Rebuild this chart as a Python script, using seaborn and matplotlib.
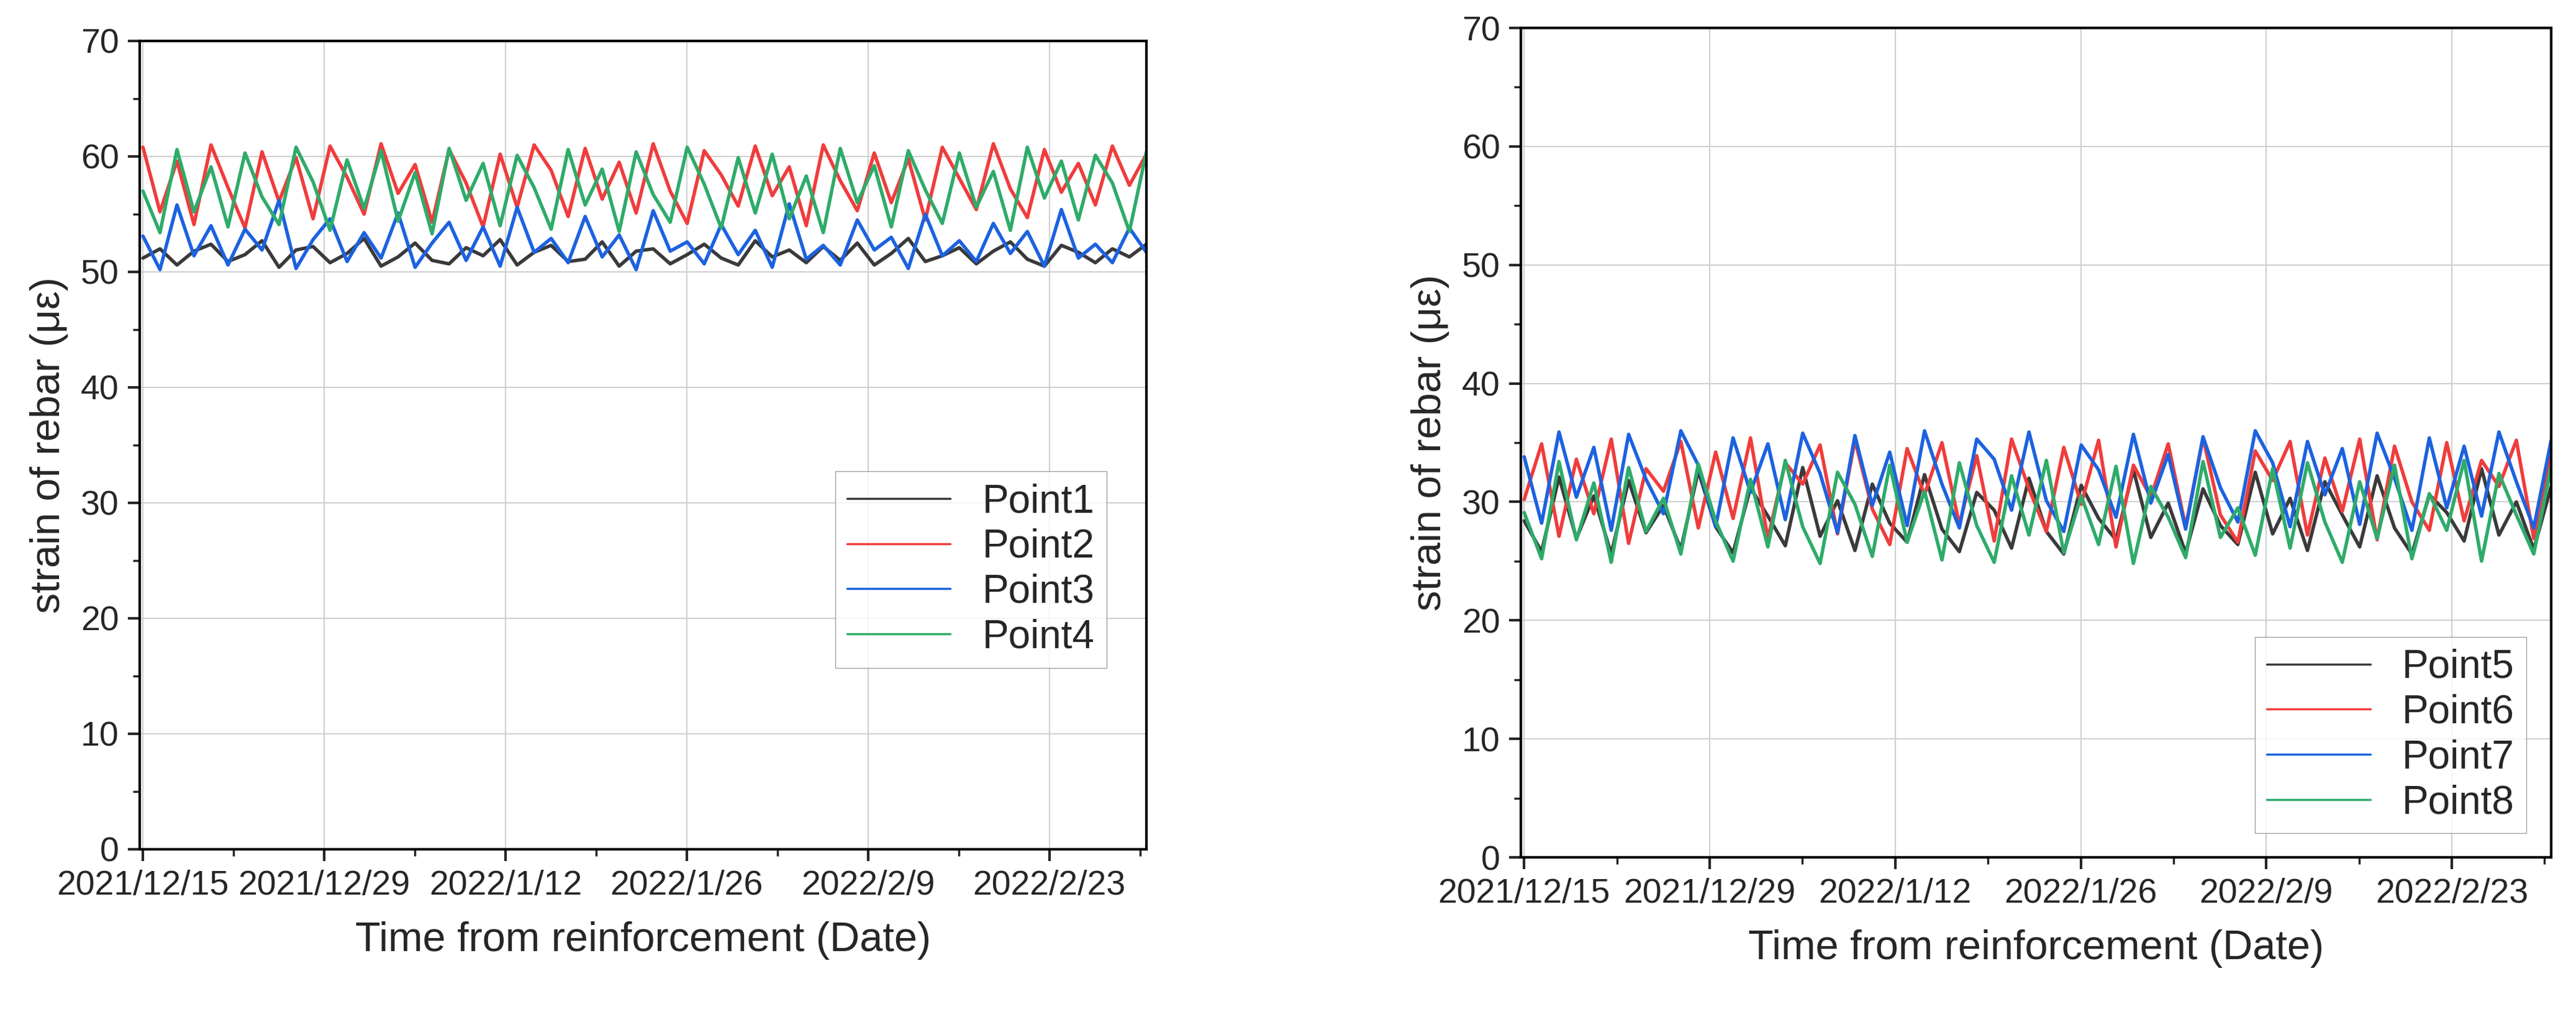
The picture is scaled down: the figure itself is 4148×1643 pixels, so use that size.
import numpy as np
import pandas as pd
import matplotlib
matplotlib.use("Agg")
import matplotlib.pyplot as plt
from matplotlib.ticker import MultipleLocator
import seaborn as sns

p1 = [51.2,52.0,50.6,51.8,52.4,50.9,51.5,52.7,50.4,51.9,52.2,50.8,51.6,52.9,50.5,51.3,52.5,51.0,50.7,52.1,51.4,52.8,50.6,51.7,52.3,50.9,51.1,52.6,50.5,51.8,52.0,50.7,51.5,52.4,51.2,50.6,52.7,51.3,51.9,50.8,52.2,51.0,52.5,50.6,51.6,52.9,50.9,51.4,52.1,50.7,51.8,52.6,51.1,50.5,52.3,51.7,50.8,52.0,51.3,52.4]
p2 = [60.8,55.2,59.6,54.1,61.0,57.3,53.8,60.4,56.1,59.9,54.6,60.9,58.2,55.0,61.1,56.8,59.3,54.3,60.6,57.7,53.9,60.2,55.6,61.0,58.8,54.8,60.7,56.3,59.5,55.1,61.1,57.0,54.2,60.5,58.4,55.7,60.9,56.6,59.1,54.0,61.0,57.9,55.3,60.3,56.0,59.8,54.5,60.8,58.1,55.4,61.1,57.2,54.7,60.6,56.9,59.4,55.8,60.9,57.5,60.2]
p3 = [53.1,50.2,55.8,51.4,54.0,50.6,53.7,51.9,56.2,50.3,52.8,54.6,50.9,53.4,51.2,55.1,50.4,52.5,54.3,51.0,53.9,50.5,55.6,51.7,52.9,50.8,54.8,51.3,53.2,50.2,55.3,51.8,52.6,50.7,54.1,51.5,53.6,50.4,55.9,51.1,52.3,50.6,54.5,51.9,53.0,50.3,55.0,51.4,52.7,50.9,54.2,51.6,53.5,50.5,55.4,51.2,52.4,50.8,53.8,51.7]
p4 = [57.0,53.4,60.6,55.2,59.1,53.9,60.3,56.5,54.1,60.8,57.8,53.6,59.7,55.5,60.5,54.4,58.6,53.3,60.7,56.2,59.4,54.0,60.1,57.3,53.7,60.6,55.8,58.9,53.5,60.4,56.7,54.3,60.8,57.6,53.8,59.9,55.1,60.2,54.6,58.3,53.4,60.7,56.0,59.2,53.9,60.5,57.1,54.2,60.3,55.6,58.7,53.6,60.8,56.4,59.6,54.5,60.1,57.7,53.5,60.4]
p5 = [28.4,25.8,32.1,26.9,30.5,25.6,31.8,27.4,29.7,26.0,32.6,27.9,25.7,31.2,28.8,26.3,32.9,27.1,30.1,25.9,31.5,28.2,26.6,32.3,27.7,25.8,30.8,29.3,26.1,32.0,27.5,25.6,31.4,28.6,26.8,32.7,27.0,29.9,25.7,31.1,28.0,26.4,32.5,27.3,30.3,25.9,31.7,28.9,26.2,32.2,27.8,25.6,30.6,29.1,26.7,32.8,27.2,30.0,26.0,31.3]
p6 = [30.2,34.9,27.1,33.6,29.0,35.3,26.5,32.8,30.9,35.1,27.8,34.2,28.6,35.4,26.9,33.3,31.5,34.8,27.3,35.2,29.4,26.4,34.5,30.6,35.0,28.1,33.9,26.7,35.3,31.1,27.5,34.6,29.8,35.2,26.2,33.1,30.4,34.9,27.9,35.4,28.9,26.6,34.3,31.8,35.1,27.2,33.7,29.2,35.3,26.8,34.7,30.0,27.6,35.0,28.4,33.5,31.3,35.2,26.9,34.4]
p7 = [33.8,28.2,35.9,30.4,34.6,27.6,35.7,31.9,29.0,36.0,33.1,27.9,35.4,30.8,34.9,28.5,35.8,32.4,27.4,35.6,29.7,34.2,28.0,36.0,31.5,27.8,35.3,33.6,29.3,35.9,30.1,27.5,34.8,32.7,28.7,35.7,29.9,34.0,27.7,35.5,31.2,28.3,36.0,33.3,27.9,35.1,30.6,34.5,28.1,35.8,32.0,27.6,35.4,29.5,34.7,28.8,35.9,31.7,27.8,35.2]
p8 = [29.1,25.2,33.4,26.8,31.6,24.9,32.9,27.5,30.3,25.6,33.2,28.4,25.0,31.9,26.2,33.5,27.9,24.8,32.5,29.8,25.4,33.1,26.6,30.9,25.1,33.3,28.0,24.9,32.2,27.2,33.5,25.7,30.5,26.4,33.0,24.8,31.3,28.7,25.3,33.4,27.0,29.5,25.5,32.8,26.1,33.3,28.3,24.9,31.7,26.9,33.1,25.2,30.7,27.6,33.5,25.0,32.4,28.9,25.6,33.0]

start, end = "2021-12-15", "2022-03-02 12:00"
tick_dates = ["2021-12-15", "2021-12-29", "2022-01-12", "2022-01-26", "2022-02-09", "2022-02-23"]
tick_labels = ["2021/12/15", "2021/12/29", "2022/1/12", "2022/1/26", "2022/2/9", "2022/2/23"]
colors = ["#3a3a3a", "#f03c3c", "#1c62e0", "#2eab6a"]

sns.set_style("white")
plt.rcParams['font.family'] = ['Liberation Sans', 'DejaVu Sans']

fig = plt.figure(figsize=(41.48, 16.43), dpi=100)
ax1 = fig.add_axes([225/4148, 1 - 1368/1643, (1846-225)/4148, (1368-66)/1643])
ax2 = fig.add_axes([2449/4148, 1 - 1381/1643, (4108-2449)/4148, (1381-45)/1643])

def draw(ax, series, names, legend_anchor):
    t = pd.date_range(start, end, periods=len(series[0]))
    for s, n, c in zip(series, names, colors):
        sns.lineplot(x=t, y=s, ax=ax, color=c, lw=4, label=n)
    ax.set_xlim(pd.Timestamp(start) - pd.Timedelta(hours=6), pd.Timestamp(end))
    ax.set_ylim(0, 70)
    ax.yaxis.set_major_locator(MultipleLocator(10))
    ax.yaxis.set_minor_locator(MultipleLocator(5))
    ax.set_xticks(pd.to_datetime(tick_dates))
    ax.set_xticklabels(tick_labels)
    minors = pd.to_datetime(tick_dates) + pd.Timedelta(days=7)
    ax.set_xticks(minors, minor=True)
    ax.grid(True, which='major', color='#d0d0d0', lw=1.5)
    ax.tick_params(which='major', direction='out', length=14, width=3, labelsize=40, bottom=True, left=True, pad=10)
    ax.tick_params(which='minor', direction='out', length=8, width=2.5, bottom=True, left=True)
    for sp in ax.spines.values():
        sp.set_color('black'); sp.set_linewidth(3)
    ax.set_xlabel("Time from reinforcement (Date)", fontsize=48, labelpad=22)
    ax.set_ylabel("strain of rebar (με)", fontsize=48, labelpad=14)
    leg = ax.legend(loc='lower right', bbox_to_anchor=legend_anchor, fontsize=46,
                    frameon=True, fancybox=False, edgecolor='#888888',
                    handlelength=2.6, borderpad=0.3, labelspacing=0.2)
    for h in leg.get_lines():
        h.set_linewidth(2.5)

draw(ax1, [p1, p2, p3, p4], ["Point1", "Point2", "Point3", "Point4"], (0.98, 0.2))
draw(ax2, [p5, p6, p7, p8], ["Point5", "Point6", "Point7", "Point8"], (0.995, 0.005))

fig.savefig("out.png", dpi=100)
